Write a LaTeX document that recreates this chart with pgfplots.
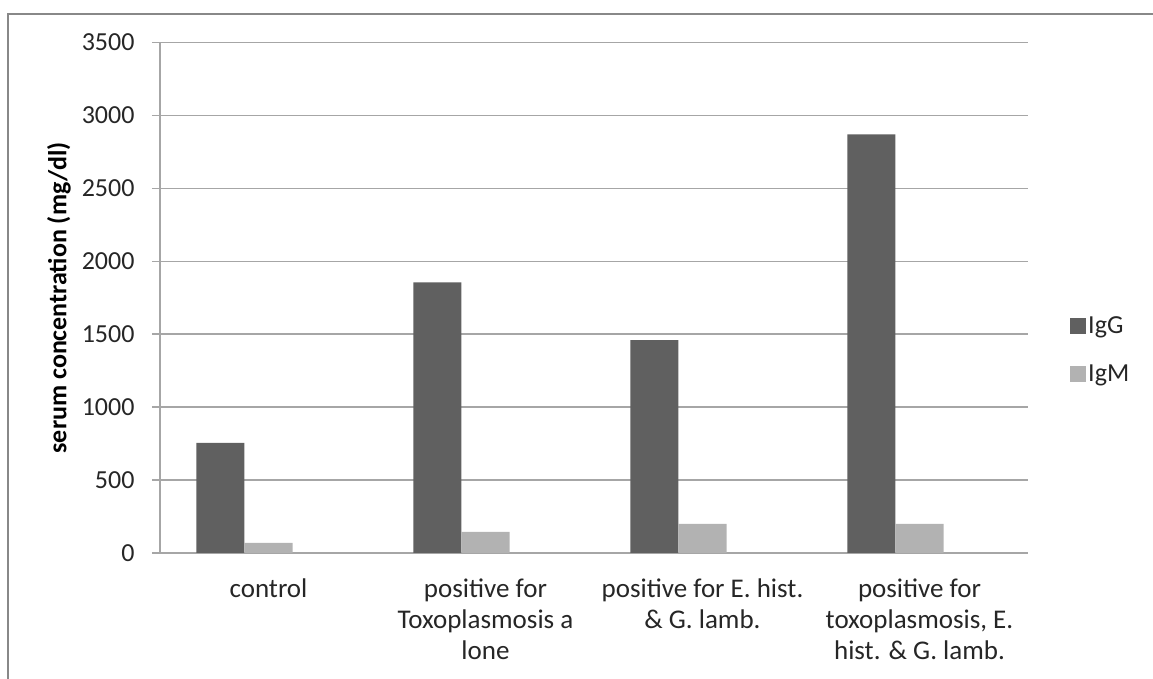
\documentclass[border=0pt]{standalone}
\usepackage{fontspec}
\setmainfont{Carlito}
\usepackage{pgfplots}
\pgfplotsset{compat=1.18}
\definecolor{igg}{HTML}{606060}
\definecolor{igm}{HTML}{B2B2B2}
\definecolor{gridc}{HTML}{A6A6A6}
\definecolor{framec}{HTML}{888888}
\begin{document}
\begin{tikzpicture}[x=1pt,y=1pt]
\useasboundingbox (0,0) rectangle (1153,679);
\draw[framec, line width=2pt] (8,0) -- (8,665) -- (1153,665);
\begin{axis}[
  at={(160pt,126pt)}, anchor=south west, scale only axis,
  width=868pt, height=510.5pt,
  xmin=-0.5, xmax=3.5, ymin=0, ymax=3500,
  ytick={0,500,...,3500},
  xtick={0,1,2,3},
  xticklabels={control,{positive for\\Toxoplasmosis a\\lone},{positive for E. hist.\\\& G. lamb.},{positive for\\toxoplasmosis, E.\\hist. \& G. lamb.}},
  axis lines*=left,
  axis line style={gridc, line width=1.5pt},
  ymajorgrids,
  grid style={gridc, line width=1.5pt},
  tick align=outside,
  major tick length=8pt,
  ytick style={gridc, line width=1.5pt},
  xtick style={draw=none},
  /pgf/number format/assume math mode=true,
  /pgf/number format/1000 sep={},
  tick label style={font=\fontsize{26}{31}\selectfont, text=black!85},
  yticklabel style={xshift=-14pt},
  xticklabel style={align=center, yshift=-14pt, font=\fontsize{27}{31}\selectfont},
  ylabel={\textbf{serum concentration (mg/dl)}},
  ylabel style={at={(axis description cs:-0.1164,0.5)}, anchor=center, font=\fontsize{26}{31}\selectfont},
  legend style={at={(1.0,0.398)}, anchor=west, xshift=39pt, draw=none, fill=none,
    font=\fontsize{26}{31}\selectfont, row sep=26pt, text=black!85},
  legend cell align=left,
  legend image code/.code={\fill[#1] (0pt,-8pt) rectangle (16pt,8pt);},
]
\addplot[ybar, fill=igg, draw=none, bar width=0.2215, bar shift=-0.2215]
  coordinates {(0,755) (1,1855) (2,1460) (3,2870)};
\addlegendentry{IgG}
\addplot[ybar, fill=igm, draw=none, bar width=0.2215, bar shift=0]
  coordinates {(0,70) (1,145) (2,200) (3,200)};
\addlegendentry{IgM}
\end{axis}
\end{tikzpicture}
\end{document}
